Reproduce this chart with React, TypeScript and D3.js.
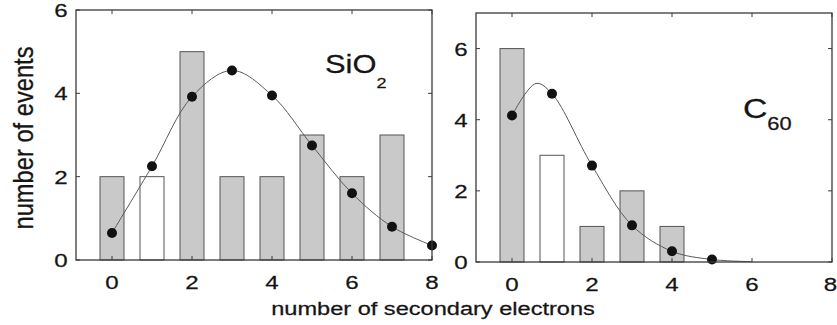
import React from 'react';
import * as d3 from 'd3';

// histogram counts (bin index = number of secondary electrons)
const sio2Bins = [0, 1, 2, 3, 4, 5, 6, 7];
const sio2Counts = [2, 2, 5, 2, 2, 3, 2, 3];
const sio2Open = [1]; // bins drawn as open (white) bars

const sio2PointX = [0, 1, 2, 3, 4, 5, 6, 7, 8];
const sio2PointY = [0.65, 2.25, 3.92, 4.55, 3.95, 2.75, 1.6, 0.8, 0.35];

const c60Bins = [0, 1, 2, 3, 4];
const c60Counts = [6, 3, 1, 2, 1];
const c60Open = [1];

const c60PointX = [0, 1, 2, 3, 4, 5];
const c60PointY = [4.12, 4.73, 2.71, 1.03, 0.3, 0.07];

// fitted curve
const sio2CurveX = [0, 1, 2, 3, 4, 5, 6, 7, 8];
const sio2CurveY = [0.65, 2.25, 3.92, 4.55, 3.95, 2.75, 1.6, 0.8, 0.35];
const c60CurveX = [0, 0.6, 1, 2, 3, 4, 5, 6];
const c60CurveY = [4.12, 5.02, 4.73, 2.71, 1.03, 0.3, 0.07, 0.01];

const xTicks = [0, 2, 4, 6, 8];
const yTicks = [0, 2, 4, 6];

const FONT = '"Liberation Sans", Arial, Helvetica, sans-serif';
const INK = '#151515';
const SX = 1.27; // the figure's lettering is stretched horizontally

type PanelProps = {
  left: number; right: number; top: number; bottom: number;
  yMax: number;
  bins: number[]; counts: number[]; open: number[];
  px: number[]; py: number[];
  cx: number[]; cy: number[];
};

const SText = ({ x, y, size, anchor = 'middle', sx = SX, children }: any) => (
  <text transform={`translate(${x},${y}) scale(${sx},1)`} fontSize={size}
    textAnchor={anchor} fill={INK} stroke={INK} strokeWidth={0.25}
    fontFamily={FONT}>{children}</text>
);

const Panel = (p: PanelProps) => {
  const x = d3.scaleLinear().domain([-0.9, 8]).range([p.left, p.right]);
  const y = d3.scaleLinear().domain([0, p.yMax]).range([p.bottom, p.top]);
  const line = d3.line<number>()
    .x((d, i) => x(p.cx[i]))
    .y((d) => y(d))
    .curve(d3.curveCatmullRom.alpha(0.5));
  const tl = 4;
  return (
    <g>
      {p.bins.map((b, i) => (
        <rect key={b} x={x(b - 0.3)} y={y(p.counts[i])}
          width={x(b + 0.3) - x(b - 0.3)} height={y(0) - y(p.counts[i])}
          fill={p.open.includes(b) ? '#ffffff' : '#c9c9c9'}
          stroke="#555" strokeWidth={1} />
      ))}
      <path d={line(p.cy) || ''} fill="none" stroke="#5a5a5a" strokeWidth={1} />
      {p.px.map((v, i) => (
        <circle key={i} cx={x(v)} cy={y(p.py[i])} r={5} fill="#111" />
      ))}
      <rect x={p.left} y={p.top} width={p.right - p.left} height={p.bottom - p.top}
        fill="none" stroke="#3a3a3a" strokeWidth={1.3} />
      {xTicks.map((t) => (
        <g key={'x' + t} stroke="#3a3a3a" strokeWidth={1}>
          <line x1={x(t)} x2={x(t)} y1={p.bottom} y2={p.bottom - tl} />
          <line x1={x(t)} x2={x(t)} y1={p.top} y2={p.top + tl} />
        </g>
      ))}
      {yTicks.map((t) => (
        <g key={'y' + t} stroke="#3a3a3a" strokeWidth={1}>
          <line x1={p.left} x2={p.left + tl} y1={y(t)} y2={y(t)} />
          <line x1={p.right} x2={p.right - tl} y1={y(t)} y2={y(t)} />
        </g>
      ))}
      {xTicks.map((t) => (
        <SText key={'xl' + t} x={Math.min(x(t), 830.5)} y={p.bottom + 29} size={19}>{t}</SText>
      ))}
      {yTicks.map((t) => (
        <SText key={'yl' + t} x={p.left - 15} y={y(t) + 7} size={19}>{t}</SText>
      ))}
    </g>
  );
};

export default function App() {
  return (
    <svg width={837} height={325} style={{ position: 'absolute', left: 0, top: 0, background: '#fff' }}>
      <rect width={837} height={325} fill="#fff" />
      <Panel left={76} right={432} top={10} bottom={260} yMax={6}
        bins={sio2Bins} counts={sio2Counts} open={sio2Open}
        px={sio2PointX} py={sio2PointY} cx={sio2CurveX} cy={sio2CurveY} />
      <Panel left={476} right={832} top={13} bottom={262} yMax={7}
        bins={c60Bins} counts={c60Counts} open={c60Open}
        px={c60PointX} py={c60PointY} cx={c60CurveX} cy={c60CurveY} />

      <SText x={325} y={73} size={25.5} anchor="start" sx={1.21}>
        SiO<tspan fontSize={15} dy={15}>2</tspan>
      </SText>
      <SText x={743} y={118} size={27} anchor="start" sx={1.25}>
        C<tspan fontSize={17.5} dy={12}>60</tspan>
      </SText>

      <SText x={433} y={315} size={18} sx={1.31}>number of secondary electrons</SText>
      <text transform="translate(33,138) scale(1.2,1) rotate(-90)" fontSize={23.7}
        textAnchor="middle" fill={INK} stroke={INK} strokeWidth={0.25}
        fontFamily={FONT}>number of events</text>
    </svg>
  );
}
